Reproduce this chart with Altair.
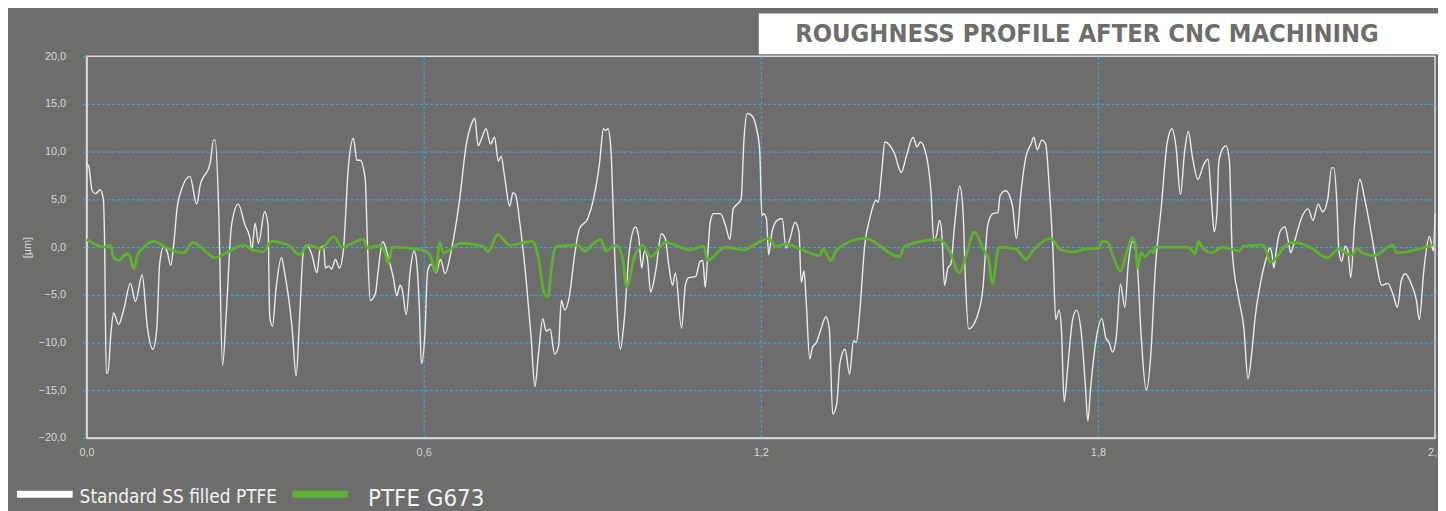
import altair as alt
import pandas as pd

# ---- data ----
ss_x = [0.000, 0.004, 0.010, 0.016, 0.024, 0.030, 0.032, 0.035, 0.038, 0.043, 0.048, 0.057, 0.066, 0.078, 0.087,
        0.099, 0.108, 0.118, 0.125, 0.130, 0.137, 0.143, 0.150, 0.155, 0.161, 0.170, 0.184, 0.196, 0.202, 0.220,
        0.226, 0.229, 0.235, 0.242, 0.249, 0.258, 0.270, 0.282, 0.291, 0.294, 0.300, 0.306, 0.317, 0.323, 0.326,
        0.331, 0.337, 0.347, 0.352, 0.366, 0.373, 0.379, 0.386, 0.392, 0.401, 0.410, 0.416, 0.422, 0.425, 0.431,
        0.436, 0.443, 0.450, 0.457, 0.466, 0.475, 0.481, 0.487, 0.496, 0.500, 0.505, 0.514, 0.519, 0.527, 0.531,
        0.537, 0.546, 0.552, 0.558, 0.562, 0.569, 0.576, 0.583, 0.587, 0.592, 0.596, 0.602, 0.607, 0.613, 0.622,
        0.630, 0.638, 0.649, 0.664, 0.676, 0.685, 0.691, 0.697, 0.702, 0.711, 0.719, 0.726, 0.733, 0.738, 0.744,
        0.753, 0.759, 0.764, 0.771, 0.782, 0.791, 0.798, 0.804, 0.812, 0.818, 0.825, 0.833, 0.840, 0.845, 0.851,
        0.860, 0.868, 0.877, 0.892, 0.901, 0.913, 0.920, 0.924, 0.928, 0.933, 0.940, 0.950, 0.957, 0.966, 0.977,
        0.983, 0.988, 0.993, 0.998, 1.004, 1.013, 1.023, 1.030, 1.036, 1.043, 1.048, 1.059, 1.066, 1.072, 1.084,
        1.092, 1.097, 1.101, 1.106, 1.110, 1.116, 1.128, 1.137, 1.145, 1.151, 1.158, 1.165, 1.170, 1.176, 1.185,
        1.192, 1.198, 1.202, 1.205, 1.210, 1.214, 1.220, 1.229, 1.238, 1.245, 1.252, 1.261, 1.268, 1.272, 1.277,
        1.281, 1.287, 1.292, 1.299, 1.307, 1.316, 1.322, 1.328, 1.335, 1.341, 1.350, 1.358, 1.365, 1.370, 1.376,
        1.385, 1.394, 1.405, 1.409, 1.415, 1.421, 1.429, 1.438, 1.450, 1.459, 1.471, 1.478, 1.484, 1.495, 1.503,
        1.508, 1.513, 1.518, 1.522, 1.527, 1.533, 1.538, 1.545, 1.554, 1.560, 1.564, 1.570, 1.583, 1.595, 1.604,
        1.613, 1.622, 1.626, 1.636, 1.648, 1.655, 1.663, 1.672, 1.681, 1.686, 1.692, 1.700, 1.707, 1.713, 1.720,
        1.725, 1.731, 1.735, 1.740, 1.746, 1.755, 1.762, 1.771, 1.778, 1.782, 1.787, 1.796, 1.807, 1.814, 1.820,
        1.826, 1.833, 1.840, 1.848, 1.854, 1.862, 1.870, 1.877, 1.886, 1.894, 1.902, 1.913, 1.923, 1.932, 1.939,
        1.947, 1.954, 1.961, 1.968, 1.978, 1.988, 1.996, 2.002, 2.007, 2.012, 2.015, 2.021, 2.028, 2.034, 2.039,
        2.050, 2.060, 2.067, 2.074, 2.080, 2.089, 2.100, 2.106, 2.110, 2.113, 2.118, 2.124, 2.133, 2.139, 2.143,
        2.150, 2.162, 2.174, 2.183, 2.192, 2.200, 2.209, 2.216, 2.220, 2.225, 2.229, 2.234, 2.240, 2.245, 2.250,
        2.257, 2.266, 2.276, 2.287, 2.296, 2.305, 2.316, 2.325, 2.333, 2.340, 2.347, 2.358, 2.367, 2.372, 2.380,
        2.390, 2.397, 2.400]
ss_y = [8.8, 8.4, 5.9, 5.6, 6.0, 5.0, 0.9, -13.2, -13.2, -9.3, -6.9, -8.1, -6.6, -3.8, -5.7,
        -2.9, -8.3, -10.7, -8.6, -1.8, 0.0, -0.4, -1.9, 0.2, 4.0, 6.2, 7.4, 4.5, 6.4, 8.8,
        11.2, 11.2, 4.3, -12.4, -6.6, 2.3, 4.5, 2.3, 0.9, -0.4, 2.5, 0.4, 3.7, 2.3, -7.3,
        -8.3, -4.5, -1.1, -2.5, -8.6, -13.5, -7.6, -0.4, 0.2, -0.8, -2.7, -0.1, 0.1, -2.2, -2.0,
        -2.3, -1.3, -2.2, -0.4, 8.4, 11.4, 9.1, 9.1, 7.1, 0.2, -5.6, -4.9, -2.5, 0.6, 0.2,
        -1.1, -3.2, -5.1, -4.0, -4.5, -7.1, -2.5, -0.4, -1.3, -5.9, -12.2, -9.3, -2.5, -1.8, -2.7,
        -1.3, -2.8, -0.4, 5.0, 10.8, 12.9, 13.5, 10.6, 11.2, 12.4, 10.8, 11.5, 9.0, 9.5, 7.4,
        4.3, 5.7, 5.4, 2.6, -3.2, -9.3, -14.6, -11.4, -7.5, -8.8, -8.6, -11.2, -10.4, -5.6, -6.6,
        -4.9, -1.1, 1.9, 3.0, 4.7, 8.8, 12.4, 12.2, 12.4, 10.5, -0.8, -10.7, -7.6, -0.4, 2.1,
        0.9, -2.2, -0.4, -1.1, -4.7, -2.5, 1.4, 0.9, -1.8, -4.0, -2.7, -8.5, -3.9, -3.2, -3.1,
        -1.5, -1.4, -4.2, -0.4, 2.6, 3.5, 3.5, 2.3, 0.8, 4.0, 4.5, 5.0, 11.2, 14.0, 13.7,
        12.5, 10.2, 3.3, 3.5, 3.0, -0.8, 1.6, 2.8, 3.0, -0.1, 0.9, 2.6, 1.6, -3.7, -2.5,
        -5.9, -11.7, -10.5, -10.0, -8.6, -7.3, -8.6, -17.5, -16.5, -12.1, -10.7, -13.3, -9.8, -10.0, -6.9,
        0.2, 3.0, 4.9, 4.7, 7.8, 11.0, 10.7, 9.8, 7.8, 9.5, 11.5, 10.5, 11.0, 9.5, 5.7,
        0.6, 1.3, 2.8, 1.6, -4.0, -2.2, -1.8, 2.3, 6.4, 3.7, -3.2, -8.6, -7.6, -4.5, 2.3,
        3.5, 3.6, 5.4, 5.9, 4.3, 0.9, 5.7, 9.5, 10.8, 11.5, 10.2, 11.2, 10.8, 6.7, -0.4,
        -7.6, -6.6, -8.5, -16.2, -12.8, -7.6, -6.6, -9.3, -14.8, -18.2, -14.8, -10.0, -7.5, -9.5, -10.0,
        -11.0, -9.3, -3.9, -6.3, -1.8, 0.6, -1.8, -9.3, -15.0, -11.4, -2.5, 4.3, 10.8, 12.4, 10.5,
        5.5, 9.8, 12.1, 9.5, 7.1, 8.6, 9.2, 5.0, 1.6, 3.7, 8.8, 10.2, 10.6, 9.1, -0.4,
        -5.2, -8.6, -13.8, -11.0, -7.3, -3.9, -1.1, -0.1, -0.8, -2.2, -0.1, 1.6, 2.1, 0.6, -0.6,
        0.6, 3.0, 4.0, 2.8, 4.5, 3.7, 5.0, 8.3, 8.3, 5.0, -0.4, -1.5, 0.1, -0.4, -3.2,
        2.6, 7.1, 4.7, 1.3, -1.8, -4.0, -3.8, -4.9, -6.3, -3.5, -2.8, -3.9, -5.6, -7.6, -2.5,
        1.1, -0.4, 3.5]

g_x = [0.000, 0.030, 0.043, 0.047, 0.057, 0.072, 0.078, 0.084, 0.091, 0.099, 0.119, 0.143, 0.173, 0.189, 0.229,
       0.255, 0.279, 0.297, 0.314, 0.329, 0.362, 0.378, 0.395, 0.417, 0.440, 0.454, 0.493, 0.500, 0.523, 0.530,
       0.537, 0.544, 0.596, 0.611, 0.621, 0.629, 0.635, 0.667, 0.706, 0.714, 0.732, 0.753, 0.794, 0.803, 0.815,
       0.821, 0.827, 0.832, 0.839, 0.874, 0.887, 0.901, 0.915, 0.924, 0.942, 0.954, 0.961, 0.975, 0.989, 1.004,
       1.030, 1.074, 1.099, 1.105, 1.137, 1.170, 1.193, 1.214, 1.226, 1.247, 1.270, 1.305, 1.311, 1.325, 1.335,
       1.385, 1.447, 1.456, 1.518, 1.536, 1.553, 1.566, 1.580, 1.595, 1.606, 1.612, 1.624, 1.654, 1.672, 1.684,
       1.716, 1.734, 1.755, 1.778, 1.801, 1.808, 1.817, 1.828, 1.840, 1.852, 1.861, 1.867, 1.871, 1.877, 1.884,
       1.894, 1.899, 1.902, 1.959, 1.967, 1.973, 1.979, 1.984, 2.003, 2.021, 2.053, 2.059, 2.094, 2.100, 2.106,
       2.115, 2.133, 2.150, 2.174, 2.209, 2.229, 2.236, 2.251, 2.262, 2.270, 2.292, 2.325, 2.331, 2.358, 2.398]
g_y = [0.8, 0.0, 0.2, -1.0, -1.4, -0.7, -1.1, -2.3, -0.8, -0.2, 0.6, -0.1, -0.6, 0.5, -1.1,
       -0.4, 0.2, -0.3, -0.5, 0.6, 0.1, -0.8, 0.2, -0.2, 1.1, 0.0, 0.8, -0.1, 0.2, -0.4,
       -1.7, 0.0, -0.3, -0.8, -2.6, 0.5, -0.6, 0.4, 0.1, -0.5, 1.3, 0.2, 0.6, -0.8, -4.9,
       -5.2, -2.5, -0.4, 0.1, 0.2, -0.4, 0.3, 0.8, -0.4, 0.2, -1.1, -4.2, -1.1, 0.2, -1.0,
       0.5, -0.3, 0.1, -1.4, 0.0, -0.3, 0.4, 0.9, 0.1, 0.3, -0.2, -0.9, -0.2, -1.4, -0.3,
       0.9, -1.0, 0.1, 0.8, -0.4, -2.7, -0.8, 1.6, -0.1, -1.5, -3.8, 0.0, -0.2, -1.3, -0.4,
       0.9, -0.3, -0.5, -0.2, -0.1, 0.6, 0.5, -1.1, -2.5, -0.4, 1.0, 0.2, -2.2, -0.6, -1.0,
       -0.4, -0.6, 0.0, 0.0, -0.3, -0.7, 0.6, 0.1, -0.6, 0.0, -0.4, 0.1, 0.2, -0.4, -1.6,
       -1.3, 0.1, 0.5, 0.1, -1.1, -0.2, -0.4, -0.9, -0.1, -0.6, -0.9, 0.2, -0.6, -0.4, 0.3]

series_names = ["Standard SS filled PTFE", "PTFE G673"]
series_colors = ["#ececec", "#5fb22e"]
x_ticks = [0.0, 0.6, 1.2, 1.8, 2.4]
y_ticks = [-20, -15, -10, -5, 0, 5, 10, 15, 20]
title_text = "ROUGHNESS PROFILE AFTER CNC MACHINING"
y_title = "[µm]"

# ---- build table ----
df = pd.concat([
    pd.DataFrame({"x": ss_x, "y": ss_y, "s": series_names[0], "o": range(len(ss_x))}),
    pd.DataFrame({"x": g_x, "y": g_y, "s": series_names[1], "o": range(len(g_x))}),
], ignore_index=True)

BG = "#6d6d6b"
GRID = "#30b2ea"
FRAME = "#dcdcdc"
LABEL = "#d8d8d8"
COND = "'DejaVu Sans Condensed', 'Roboto Condensed', 'Liberation Sans Narrow', Roboto, sans-serif"
W, H = 1356, 384

fmt = "replace(format(datum.value, '.1f'), '.', ',')"

x_enc = alt.X("x:Q", scale=alt.Scale(domain=[0, 2.4], nice=False, zero=False),
              axis=alt.Axis(values=x_ticks, labelExpr=fmt, title=None, ticks=False,
                            labelPadding=9, labelFontSize=11, labelColor=LABEL,
                            labelFont="Liberation Sans", labelFlush=False,
                            domainColor=FRAME, domainWidth=1.5,
                            grid=True, gridDash=[3, 2], gridWidth=1,
                            gridColor={"condition": {"test": "datum.value > 0.01 && datum.value < 2.39",
                                                     "value": GRID}, "value": "transparent"}))
y_enc = alt.Y("y:Q", scale=alt.Scale(domain=[-20, 20], nice=False, zero=False),
              axis=alt.Axis(values=y_ticks, labelExpr=fmt, title=y_title,
                            tickSize=4, tickColor=GRID, labelPadding=17,
                            labelFontSize=11, labelColor=LABEL, labelFont="Liberation Sans",
                            labelFlush=False,
                            domainColor=FRAME, domainWidth=1.5,
                            titleFont="Liberation Sans", titleFontSize=11, titleColor=LABEL,
                            titleFontWeight="normal", titleX=-59, titleY=H / 2, titleAngle=-90,
                            titleAlign="center", titleBaseline="middle",
                            grid=True, gridDash=[3, 2], gridWidth=1,
                            gridColor={"condition": {"test": "abs(datum.value) < 19",
                                                     "value": GRID}, "value": "transparent"}))

color = alt.Color("s:N", scale=alt.Scale(domain=series_names, range=series_colors), legend=None)

lines = alt.Chart(df).mark_line(interpolate="monotone").encode(
    x=x_enc, y=y_enc, color=color,
    strokeWidth=alt.StrokeWidth("s:N", scale=alt.Scale(domain=series_names, range=[1.4, 2.8]), legend=None),
    detail="s:N", order="o:Q")

one = pd.DataFrame({"t": [title_text]})
title_box = alt.Chart(one).mark_rect(color="white").encode(
    x=alt.value(676), x2=alt.value(1360), y=alt.value(-43), y2=alt.value(-2))
title_txt = alt.Chart(one).mark_text(font=COND, fontWeight="bold", fontSize=25.5,
                                     color=BG, align="center", baseline="middle").encode(
    x=alt.value(1006), y=alt.value(-22), text="t:N")

leg = pd.DataFrame({"s": series_names})
leg_white_bar = alt.Chart(leg).transform_filter(alt.datum.s == series_names[0]).mark_rule(
    color="white", strokeWidth=7).encode(x=alt.value(-70), x2=alt.value(-14), y=alt.value(440.5))
leg_green_bar = alt.Chart(leg).transform_filter(alt.datum.s == series_names[1]).mark_rule(
    color=series_colors[1], strokeWidth=7).encode(x=alt.value(207), x2=alt.value(263), y=alt.value(440.5))
leg_white_txt = alt.Chart(leg).transform_filter(alt.datum.s == series_names[0]).mark_text(
    font=COND, fontSize=19, color="#f2f2f2", align="left", baseline="alphabetic").encode(
    x=alt.value(-7), y=alt.value(449), text="s:N")
leg_green_txt = alt.Chart(leg).transform_filter(alt.datum.s == series_names[1]).mark_text(
    font=COND, fontSize=24, color="#f2f2f2", align="left", baseline="alphabetic").encode(
    x=alt.value(283), y=alt.value(452), text="s:N")

chart = alt.layer(lines, title_box, title_txt, leg_white_bar, leg_green_bar, leg_white_txt, leg_green_txt).properties(
    width=W, height=H, background=BG,
    autosize=alt.AutoSizeParams(type="none"),
    padding={"left": 79, "top": 47, "right": 3, "bottom": 72},
).configure_view(stroke=FRAME, strokeWidth=1.5)

chart.save("out.html", embed_options={"renderer": "svg", "actions": False})
